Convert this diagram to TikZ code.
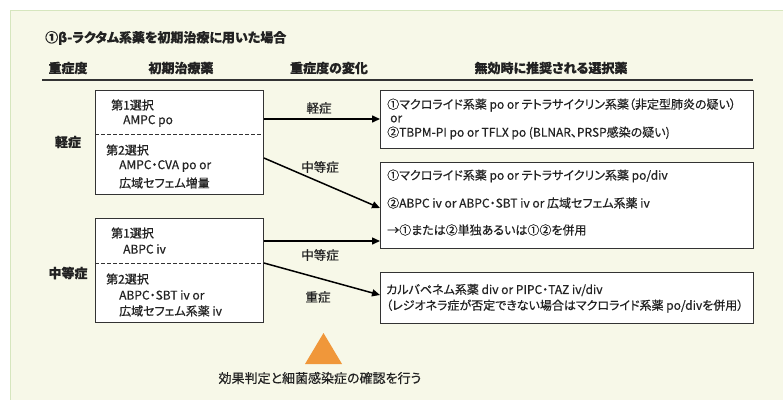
\documentclass[tikz,border=0pt]{standalone}
\usepackage{fontspec}
\setmainfont[RawFeature=+palt, FakeBold=0.5]{Noto Sans CJK JP}
\usetikzlibrary{arrows.meta}
\definecolor{panel}{HTML}{F7F8E8}
\definecolor{panelline}{HTML}{D6E6BE}
\definecolor{boxline}{HTML}{333333}
\definecolor{textc}{HTML}{222222}
\definecolor{tri}{HTML}{F0973A}
\tikzset{
  box/.style={draw=boxline, fill=white, line width=0.9pt, inner sep=0pt, anchor=north west},
  txt/.style={anchor=west, inner sep=0pt, font=\fontsize{12}{14}\selectfont, text=textc},
  hdr/.style={inner sep=0pt, font=\fontsize{13}{15}\selectfont\bfseries, text=textc},
  lbl/.style={inner sep=0pt, font=\fontsize{12.5}{14}\selectfont, text=textc},
  arr/.style={-{Triangle[length=8pt,width=7pt]}, line width=1.5pt, draw=black},
  sep/.style={draw=boxline, line width=0.8pt, dash pattern=on 4pt off 2pt}
}
\begin{document}
\begin{tikzpicture}[x=1pt,y=-1pt]
\useasboundingbox (0,0) rectangle (783,399);
\fill[white] (0,0) rectangle (783,399);
\draw[panelline, fill=panel, line width=1pt] (10,10) rectangle (800,420);

% title and headers
\node[anchor=west, inner sep=0pt, font=\fontsize{13}{15}\selectfont\bfseries, text=textc] (title) at (45,38) {①\textit{β}-ラクタム系薬を初期治療に用いた場合};
\node[hdr] (h1) at (68,68) {重症度};
\node[hdr] (h2) at (181,68) {初期治療薬};
\node[hdr] (h3) at (329,68) {重症度の変化};
\node[hdr] (h4) at (551,68) {無効時に推奨される選択薬};
\coordinate (rl) at (42,80);
\coordinate (rr) at (753,80);
\draw[boxline, line width=1.3pt] (rl) -- (rr);

% severity labels
\node[hdr] (s1) at (68,142) {軽症};
\node[hdr] (s2) at (68,273) {中等症};

% left boxes
\node[box, minimum width=168pt, minimum height=104pt] (L1) at (95,90) {};
\draw[sep] (L1.west |- 0,134) -- (L1.east |- 0,134);
\node[txt] (l1a) at (111,105) {第1選択};
\node[txt] (l1b) at (123,121) {AMPC po};
\node[txt] (l1c) at (106,150) {第2選択};
\node[txt] (l1d) at (119,166) {AMPC・CVA po or};
\node[txt] (l1e) at (119,183) {広域セフェム増量};

\node[box, minimum width=168pt, minimum height=104pt] (L2) at (95,218) {};
\draw[sep] (L2.west |- 0,263) -- (L2.east |- 0,263);
\node[txt] (l2a) at (111,233) {第1選択};
\node[txt] (l2b) at (123,249) {ABPC iv};
\node[txt] (l2c) at (106,279) {第2選択};
\node[txt] (l2d) at (119,295) {ABPC・SBT iv or};
\node[txt] (l2e) at (119,311) {広域セフェム系薬 iv};

% right boxes
\node[box, minimum width=373pt, minimum height=58pt] (RA) at (380,90) {};
\node[txt] (ra1) at (387,105) {①マクロライド系薬 po or テトラサイクリン系薬（非定型肺炎の疑い）};
\node[txt] (ra2) at (390,119) {or};
\node[txt] (ra3) at (387,133) {②TBPM-PI po or TFLX po (BLNAR、PRSP感染の疑い)};

\node[box, minimum width=373pt, minimum height=86pt] (RB) at (380,162) {};
\node[txt] (rb1) at (387,176) {①マクロライド系薬 po or テトラサイクリン系薬 po/div};
\node[txt] (rb2) at (387,203) {②ABPC iv or ABPC・SBT iv or 広域セフェム系薬 iv};
\node[txt] (rb3) at (387,230) {→①または②単独あるいは①②を併用};

\node[box, minimum width=373pt, minimum height=51pt] (RC) at (380,272) {};
\node[txt] (rc1) at (386,290) {カルバペネム系薬 div or PIPC・TAZ iv/div};
\node[txt] (rc2) at (386,306) {（レジオネラ症が否定できない場合はマクロライド系薬 po/divを併用）};

% arrows
\draw[arr] (L1.east |- 0,119) -- (RA.west |- 0,119);
\draw[arr] (L1.east |- 0,158) -- (RB.west |- 0,208);
\draw[arr] (L2.east |- 0,241) -- (RB.west |- 0,241);
\draw[arr] (L2.east |- 0,263) -- (RC.west |- 0,295);

\node[lbl] (m1) at (319,108) {軽症};
\node[lbl] (m2) at (320,167) {中等症};
\node[lbl] (m3) at (320,255) {中等症};
\node[lbl] (m4) at (318,297) {重症};

% bottom
\fill[tri] (305,364) -- (342,364) -- (323.5,333) -- cycle;
\node[lbl, font=\fontsize{13}{15}\selectfont] (foot) at (320,378) {効果判定と細菌感染症の確認を行う};
\end{tikzpicture}
\end{document}
